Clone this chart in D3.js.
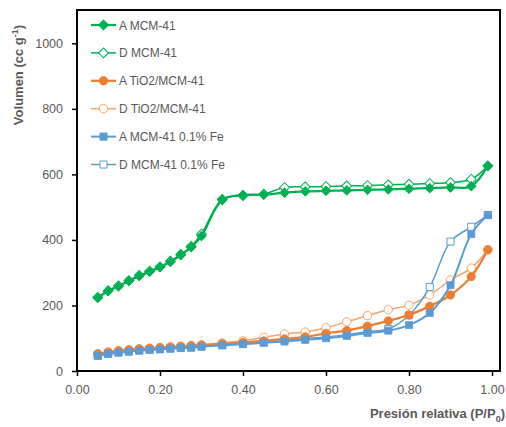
<!DOCTYPE html>
<html><head><meta charset="utf-8">
<script src="https://cdn.jsdelivr.net/npm/d3@7"></script>
<style>body{margin:0;background:#fff}svg{display:block}text{font-family:"Liberation Sans",Arial,sans-serif}</style>
</head><body><svg id="c" width="506" height="427"></svg>
<script>
const xTicks = [0, 0.2, 0.4, 0.6, 0.8, 1.0];
const yTicks = [0, 200, 400, 600, 800, 1000];
const pressure = [0.05,0.075,0.10,0.125,0.15,0.175,0.20,0.225,0.25,0.275,0.30,0.35,0.40,0.45,0.50,0.55,0.60,0.65,0.70,0.75,0.80,0.85,0.90,0.95,0.99];
const aMCM   = [223,244,259,275,290,303,317,333,354,378,412,522,537,538,544,548,550,551,553,554,556,558,560,564,626];
const dMCM   = [225,245,260,276,292,305,318,335,356,380,418,524,535,540,560,562,563,565,566,568,570,572,575,585,626];
const aTiO2  = [52,57,61,64,67,69,71,73,75,77,79,83,87,92,98,104,115,123,137,153,171,198,232,288,370];
const dTiO2  = [53,58,62,65,68,70,72,74,76,78,80,86,92,103,113,119,132,150,169,187,201,232,278,314,370];
const aFe    = [46,52,56,59,62,64,66,68,70,71,74,78,82,86,90,95,100,107,116,123,140,177,262,418,476];
const dFe    = [47,53,57,60,63,65,67,69,71,72,75,79,83,88,94,99,104,111,120,128,170,256,395,440,476];
const seriesNames = ["A MCM-41","D MCM-41","A TiO2/MCM-41","D TiO2/MCM-41","A MCM-41 0.1% Fe","D MCM-41 0.1% Fe"];

const series = [
  {name:seriesNames[0], v:aMCM, color:"#00B050", sym:"diamond", open:false, w:2.25},
  {name:seriesNames[1], v:dMCM, color:"#00B050", sym:"diamond", open:true,  w:1.5},
  {name:seriesNames[2], v:aTiO2, color:"#ED7D31", sym:"circle", open:false, w:2.25},
  {name:seriesNames[3], v:dTiO2, color:"#F4A46C", sym:"circle", open:true,  w:1.5},
  {name:seriesNames[4], v:aFe, color:"#5B9BD5", sym:"square", open:false, w:2},
  {name:seriesNames[5], v:dFe, color:"#5B9BD5", sym:"square", open:true,  w:1.5}
];

const svg = d3.select("#c");
const L=77, R=500, T=10, B=371;
const x = d3.scaleLinear().domain([0,1.02]).range([L, L + 1.02*415]);
const y = d3.scaleLinear().domain([0,1100]).range([B, B-1100*0.3277]);

svg.append("rect").attr("x",L).attr("y",T).attr("width",R-L).attr("height",B-T)
  .attr("fill","none").attr("stroke","#000").attr("stroke-width",2);

const gx = svg.append("g").attr("transform",`translate(0,${B})`)
  .call(d3.axisBottom(x).tickValues(xTicks).tickFormat(d3.format(".2f")).tickSize(5).tickPadding(9));
const gy = svg.append("g").attr("transform",`translate(${L},0)`)
  .call(d3.axisLeft(y).tickValues(yTicks).tickFormat(d3.format("d")).tickSize(5).tickPadding(9));
[gx,gy].forEach(g=>{
  g.select(".domain").remove();
  g.selectAll(".tick line").attr("stroke","#000").attr("stroke-width",1.5);
  g.selectAll(".tick text").attr("fill","#595959").style("font-size","12.5px");
});

function symPath(s){
  if(s==="diamond") return d3.symbol().type(d3.symbolSquare).size(48)();
  if(s==="circle") return d3.symbol().type(d3.symbolCircle).size(55)();
  return d3.symbol().type(d3.symbolSquare).size(50)();
}

const line = d3.line().x((d,i)=>x(pressure[i])).y(d=>y(d)).curve(d3.curveCatmullRom.alpha(0.5));

// draw desorption (open) series underneath, adsorption (filled) on top
const drawOrder = [1,3,5,0,2,4];
drawOrder.forEach(k=>{
  const s = series[k];
  const g = svg.append("g");
  g.append("path").datum(s.v).attr("d",line).attr("fill","none")
    .attr("stroke",s.color).attr("stroke-width",s.w);
  g.selectAll("path.m").data(s.v).enter().append("path").attr("class","m")
    .attr("d",symPath(s.sym))
    .attr("transform",(d,i)=>`translate(${x(pressure[i])},${y(d)})${s.sym==="diamond"?" rotate(45)":""}`)
    .attr("fill",s.open?"#fff":s.color)
    .attr("stroke",s.color).attr("stroke-width",s.open?1:0.75);
});

const lg = svg.append("g");
series.forEach((s,i)=>{
  const yy = 25 + i*27.9;
  lg.append("line").attr("x1",91).attr("x2",116).attr("y1",yy).attr("y2",yy)
    .attr("stroke",s.color).attr("stroke-width",s.w);
  lg.append("path").attr("d",symPath(s.sym))
    .attr("transform",`translate(103.5,${yy})${s.sym==="diamond"?" rotate(45)":""}`)
    .attr("fill",s.open?"#fff":s.color).attr("stroke",s.color).attr("stroke-width",1);
  lg.append("text").attr("x",119).attr("y",yy+4.5).text(s.name)
    .attr("fill","#595959").style("font-size","12px");
});

const yt = svg.append("text").attr("transform","translate(23,75) rotate(-90)")
  .attr("text-anchor","middle").attr("fill","#595959")
  .style("font-size","13px").style("font-weight","bold");
yt.append("tspan").text("Volumen (cc g");
yt.append("tspan").text("-1").attr("dy",-5).style("font-size","9px");
yt.append("tspan").text(")").attr("dy",5);

const xt = svg.append("text").attr("x",505).attr("y",418)
  .attr("text-anchor","end").attr("fill","#595959")
  .style("font-size","13px").style("font-weight","bold");
xt.append("tspan").text("Presión relativa (P/P");
xt.append("tspan").text("0").attr("dy",4).style("font-size","9px");
xt.append("tspan").text(")").attr("dy",-4);
</script></body></html>
